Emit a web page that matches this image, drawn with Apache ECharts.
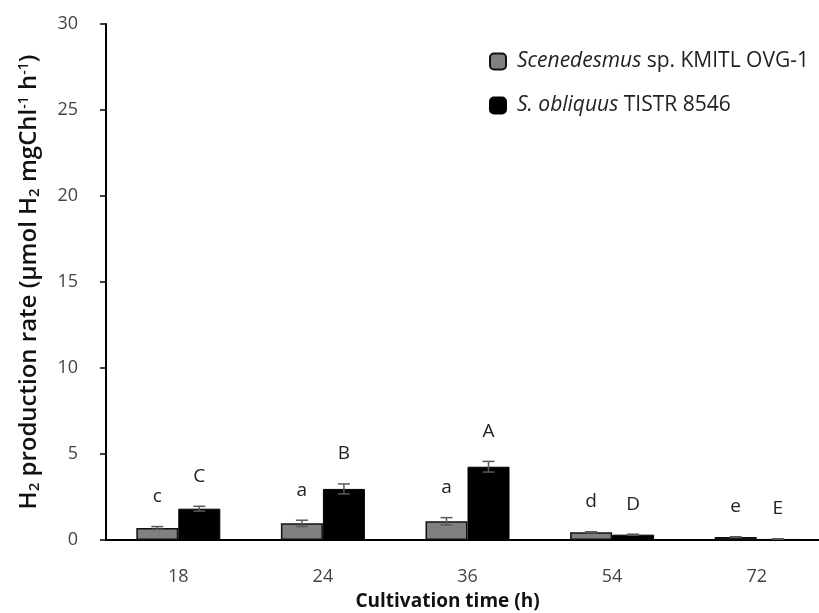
<!DOCTYPE html>
<html>
<head>
<meta charset="utf-8">
<script src="https://cdn.jsdelivr.net/npm/echarts@6/dist/echarts.min.js"></script>
<style>
  html, body { margin: 0; padding: 0; background: #fff; }
  #chart { width: 819px; height: 613px; }
</style>
</head>
<body>
<div id="chart"></div>
<script>
// data
var times = ['18', '24', '36', '54', '72'];
var ovgRate = [0.70, 0.97, 1.09, 0.45, 0.17];
var ovgErr = [0.08, 0.18, 0.21, 0.03, 0.02];
var ovgLetters = ['c', 'a', 'a', 'd', 'e'];
var tistrRate = [1.82, 2.97, 4.26, 0.31, 0.06];
var tistrErr = [0.14, 0.29, 0.31, 0.03, 0.01];
var tistrLetters = ['C', 'B', 'A', 'D', 'E'];

var font = '"Open Sans", "Noto Sans", sans-serif';

var myChart = echarts.init(document.getElementById('chart'));

// error bar + significance letter above each bar
function errorSeries(name, vals, errs, letters, idx) {
  var data = vals.map(function (v, i) { return [i, v, errs[i]]; });
  return {
    name: name + '_err',
    type: 'custom',
    z: 5,
    data: data,
    renderItem: function (params, api) {
      var i = api.value(0), v = api.value(1), e = api.value(2);
      var bw = 42;
      var x = api.coord([i, 0])[0] + (idx === 0 ? -bw / 2 : bw / 2);
      var hi = api.coord([i, v + e])[1];
      var lo = api.coord([i, Math.max(v - e, 0)])[1];
      var cap = 6;
      var st = { stroke: '#595959', lineWidth: 1.5 };
      return {
        type: 'group',
        children: [
          { type: 'line', shape: { x1: x, y1: hi, x2: x, y2: lo }, style: st },
          { type: 'line', shape: { x1: x - cap, y1: hi, x2: x + cap, y2: hi }, style: st },
          { type: 'line', shape: { x1: x - cap, y1: lo, x2: x + cap, y2: lo }, style: st },
          {
            type: 'text',
            style: {
              x: x, y: hi - 30, text: letters[i],
              align: 'center', verticalAlign: 'middle',
              fill: '#222', font: '19px ' + font
            }
          }
        ]
      };
    }
  };
}

var titleRich = {
  t: { fontFamily: font, fontSize: 24, fontWeight: 600, color: '#111' },
  s: { fontFamily: font, fontSize: 15, fontWeight: 600, color: '#111', verticalAlign: 'bottom', padding: [10, 0, 0, 0] },
  p: { fontFamily: font, fontSize: 14, fontWeight: 600, color: '#111', verticalAlign: 'top', padding: [0, 0, 10, 0] }
};

myChart.setOption({
  animation: false,
  grid: { left: 106, right: -10, top: 24, bottom: 73, outerBoundsMode: 'none' },
  legend: {
    orient: 'vertical',
    left: 484,
    top: 46,
    itemGap: 23,
    itemWidth: 16,
    itemHeight: 16,
    data: ['ovg', 'tistr'],
    formatter: function (n) {
      if (n === 'ovg') return '{i|Scenedesmus} sp. KMITL OVG-1';
      return '{i|S. obliquus} TISTR 8546';
    },
    textStyle: {
      fontFamily: font, fontSize: 21, color: '#222', padding: [0, 0, 0, 6],
      rich: { i: { fontStyle: 'italic', fontFamily: font, fontSize: 21, color: '#222' } }
    }
  },
  xAxis: {
    type: 'category',
    data: times,
    name: 'Cultivation time (h)',
    nameLocation: 'middle',
    nameGap: 52,
    nameTextStyle: { fontFamily: font, fontSize: 19, fontWeight: 'bold', color: '#111', padding: [0, 40, 0, 0] },
    axisLine: { lineStyle: { color: '#000', width: 2 } },
    axisTick: { alignWithLabel: true, length: 6, lineStyle: { color: '#000', width: 1.5 } },
    axisLabel: { margin: 28, fontFamily: font, fontSize: 18, color: '#444' }
  },
  yAxis: {
    type: 'value',
    min: 0,
    max: 30,
    interval: 5,
    name: '{t|H}{s|2}{t| production rate (µmol H}{s|2}{t| mgChl}{p|-1}{t| h}{p|-1}{t|)}',
    nameLocation: 'middle',
    nameGap: 64,
    nameTextStyle: { rich: titleRich },
    splitLine: { show: false },
    axisLine: { show: true, lineStyle: { color: '#000', width: 2 } },
    axisTick: { show: true, length: 6, lineStyle: { color: '#000', width: 1.5 } },
    axisLabel: { margin: 28, fontFamily: font, fontSize: 18, color: '#444' }
  },
  series: [
    {
      name: 'ovg',
      type: 'bar',
      data: ovgRate,
      barWidth: 42,
      barGap: '0%',
      itemStyle: { color: '#808080', borderColor: '#111', borderWidth: 1.5 }
    },
    {
      name: 'tistr',
      type: 'bar',
      data: tistrRate,
      barWidth: 42,
      itemStyle: { color: '#000', borderColor: '#000', borderWidth: 1 }
    },
    errorSeries('ovg', ovgRate, ovgErr, ovgLetters, 0),
    errorSeries('tistr', tistrRate, tistrErr, tistrLetters, 1)
  ]
});
</script>
</body>
</html>
